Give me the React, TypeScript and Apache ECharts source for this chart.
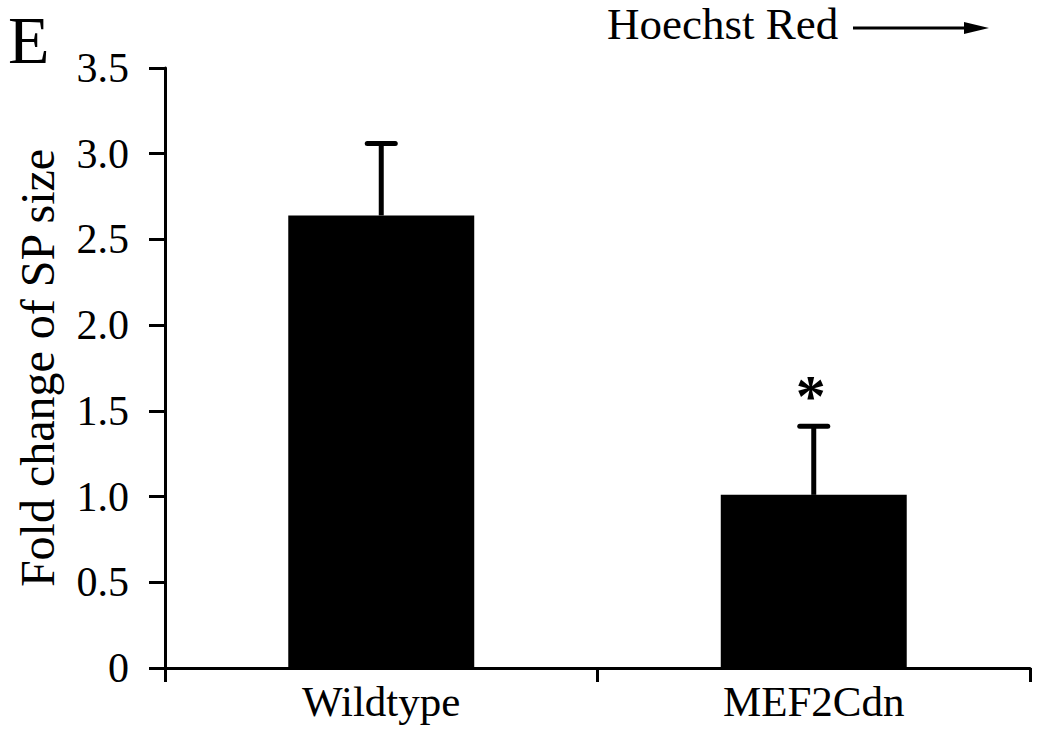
import React, { useEffect, useRef } from "react";
import * as echarts from "echarts";

const categories = ["Wildtype", "MEF2Cdn"];
const means = [2.64, 1.01];
const errorTops = [3.06, 1.41];
const significance = ["", "*"];
const yTicks = [0, 0.5, 1.0, 1.5, 2.0, 2.5, 3.0, 3.5];
const yTickLabels = ["0", "0.5", "1.0", "1.5", "2.0", "2.5", "3.0", "3.5"];
const panelLetter = "E";
const headerText = "Hoechst Red";
const yAxisTitle = "Fold change of SP size";

const FONT = "Liberation Serif";

export default function App() {
  const ref = useRef<HTMLDivElement>(null);
  useEffect(() => {
    if (!ref.current) return;
    const chart = echarts.init(ref.current, null, { renderer: "svg" });
    const errData = categories.map((c, i) => [i, means[i], errorTops[i]]);
    chart.setOption({
      animation: false,
      backgroundColor: "#ffffff",
      textStyle: { fontFamily: FONT },
      grid: { left: 165, right: 7, top: 68, bottom: 64, containLabel: false },
      xAxis: {
        type: "category",
        data: categories,
        axisLine: { show: true, lineStyle: { color: "#000", width: 3 } },
        axisTick: { show: true, length: 14, lineStyle: { color: "#000", width: 3 } },
        axisLabel: { color: "#000", fontFamily: FONT, fontSize: 43, margin: 12 },
      },
      yAxis: {
        type: "value",
        min: 0,
        max: 3.5,
        interval: 0.5,
        name: yAxisTitle,
        nameLocation: "middle",
        nameRotate: 90,
        nameGap: 104,
        nameTextStyle: { color: "#000", fontFamily: FONT, fontSize: 48 },
        axisLine: { show: true, lineStyle: { color: "#000", width: 3 } },
        axisTick: { show: true, length: 16, lineStyle: { color: "#000", width: 3 } },
        axisLabel: {
          color: "#000",
          fontFamily: FONT,
          fontSize: 42,
          margin: 36,
          formatter: (v: number) => {
            const idx = yTicks.findIndex((t) => Math.abs(t - v) < 1e-9);
            return idx >= 0 ? yTickLabels[idx] : String(v);
          },
        },
        splitLine: { show: false },
      },
      series: [
        {
          type: "bar",
          data: means,
          barWidth: "43%",
          itemStyle: { color: "#000" },
          z: 2,
        },
        {
          type: "custom",
          data: errData,
          z: 3,
          renderItem: (params: any, api: any) => {
            const x = api.value(0);
            const low = api.coord([x, api.value(1)]);
            const high = api.coord([x, api.value(2)]);
            const capHalf = 14;
            const children: any[] = [
              {
                type: "line",
                shape: { x1: low[0], y1: low[1], x2: high[0], y2: high[1] },
                style: { stroke: "#000", lineWidth: 5 },
              },
              {
                type: "line",
                shape: { x1: high[0] - capHalf, y1: high[1], x2: high[0] + capHalf, y2: high[1] },
                style: { stroke: "#000", lineWidth: 5, lineCap: "round" },
              },
            ];
            const sig = significance[params.dataIndex];
            if (sig) {
              children.push({
                type: "text",
                x: high[0] - 3,
                y: high[1] - 30,
                style: {
                  text: sig,
                  fill: "#000",
                  fontFamily: FONT,
                  fontWeight: "bold",
                  fontSize: 60,
                  textAlign: "center",
                  textVerticalAlign: "middle",
                },
              });
            }
            return { type: "group", children };
          },
        },
      ],
      graphic: [
        {
          type: "text",
          x: 8,
          y: 40,
          style: {
            text: panelLetter,
            fill: "#000",
            fontFamily: FONT,
            fontSize: 68,
            lineHeight: 68,
            textVerticalAlign: "middle",
          },
        },
        {
          type: "text",
          x: 607,
          y: 24,
          style: {
            text: headerText,
            fill: "#000",
            fontFamily: FONT,
            fontSize: 45,
            lineHeight: 44,
            textVerticalAlign: "middle",
          },
        },
        {
          type: "line",
          shape: { x1: 853, y1: 28, x2: 975, y2: 28 },
          style: { stroke: "#000", lineWidth: 3 },
        },
        {
          type: "polygon",
          shape: { points: [[964, 22], [989, 28], [964, 34]] },
          style: { fill: "#000" },
        },
      ],
    });
    return () => chart.dispose();
  }, []);
  return (
    <div
      ref={ref}
      style={{ position: "absolute", left: 0, top: 0, width: 1037, height: 732 }}
    />
  );
}
